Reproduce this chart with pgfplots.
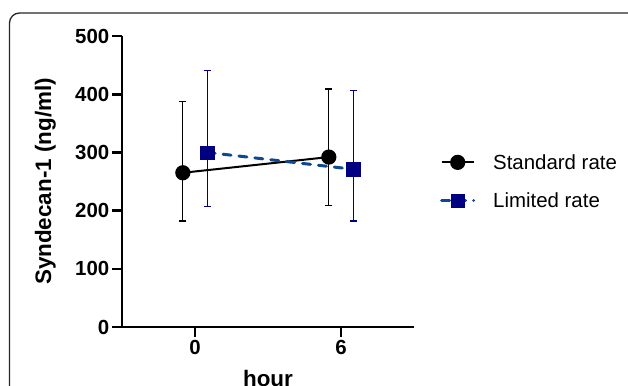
\documentclass[border=0pt]{standalone}
\usepackage{fontspec}
\setmainfont{Liberation Sans}
\usepackage{pgfplots}
\pgfplotsset{compat=1.18}
\definecolor{navym}{RGB}{0,0,128}
\definecolor{dashblue}{RGB}{14,72,142}
\begin{document}
\begin{tikzpicture}[x=1bp,y=1bp]
\useasboundingbox (0bp,0bp) rectangle (628bp,386bp);
\draw[line width=1.3bp, black!85, rounded corners=10bp] (9.5bp,-30bp) -- (9.5bp,373bp) -- (660bp,373bp);
\begin{axis}[
  at={(122bp,59bp)}, anchor=south west,
  scale only axis, width=292bp, height=291bp,
  xmin=-3, xmax=9, ymin=0, ymax=500,
  axis x line*=bottom, axis y line*=left,
  axis line style={line width=2.6bp, -},
  xtick={0,6}, ytick={0,100,200,300,400,500},
  tick align=outside, tick pos=left,
  major tick length=10bp,
  every tick/.style={line width=2.6bp, black},
  /pgf/number format/assume math mode=true,
  ticklabel style={font=\bfseries\fontsize{20.5}{20.5}\selectfont},
  yticklabel style={inner xsep=2.5bp},
  xlabel={hour}, ylabel={Syndecan-1 (ng/ml)},
  label style={font=\bfseries\fontsize{22.5}{22.5}\selectfont},
  xlabel style={at={(axis description cs:0.5,-0.206)}, anchor=base},
  ylabel style={at={(axis description cs:-0.262,0.5)}, anchor=center},
  clip=false,
  legend style={draw=none, fill=none, at={(axis description cs:1.089,0.5)}, anchor=west,
    font=\fontsize{20.5}{20.5}\selectfont, row sep=18bp, inner sep=0pt,
    nodes={inner xsep=0bp},
    /tikz/every odd column/.style={column sep=18bp}},
  legend cell align=left,
  legend image code/.code={\draw[mark repeat=2,mark phase=2,#1] plot coordinates {(0bp,0bp) (16bp,0bp) (32bp,0bp)};},
]
\addplot[black, line width=2bp, mark=*, mark size=6.6bp, mark options={solid, fill=black},
  error bars/.cd, y dir=both, y explicit,
  error bar style={line width=1.2bp, black, solid},
  error mark options={rotate=90, mark size=3.5bp, line width=1.2bp, black, solid}]
  coordinates {(-0.5,265) += (0,122) -= (0,83) (5.5,292) += (0,117) -= (0,83)};
\addlegendentry{Standard rate}
\addplot[dashblue, line width=3bp, dash pattern=on 8bp off 8bp, line cap=round, mark=square*, mark size=6.6bp,
  mark options={solid, fill=navym, draw=navym, line width=0.5bp},
  error bars/.cd, y dir=both, y explicit,
  error bar style={line width=1.2bp, navym, solid, line cap=butt},
  error mark options={rotate=90, mark size=3.5bp, line width=1.2bp, navym, solid}]
  coordinates {(0.5,300) += (0,141) -= (0,93) (6.5,271) += (0,136) -= (0,89)};
\addlegendentry{Limited rate}
\end{axis}
\end{tikzpicture}
\end{document}
